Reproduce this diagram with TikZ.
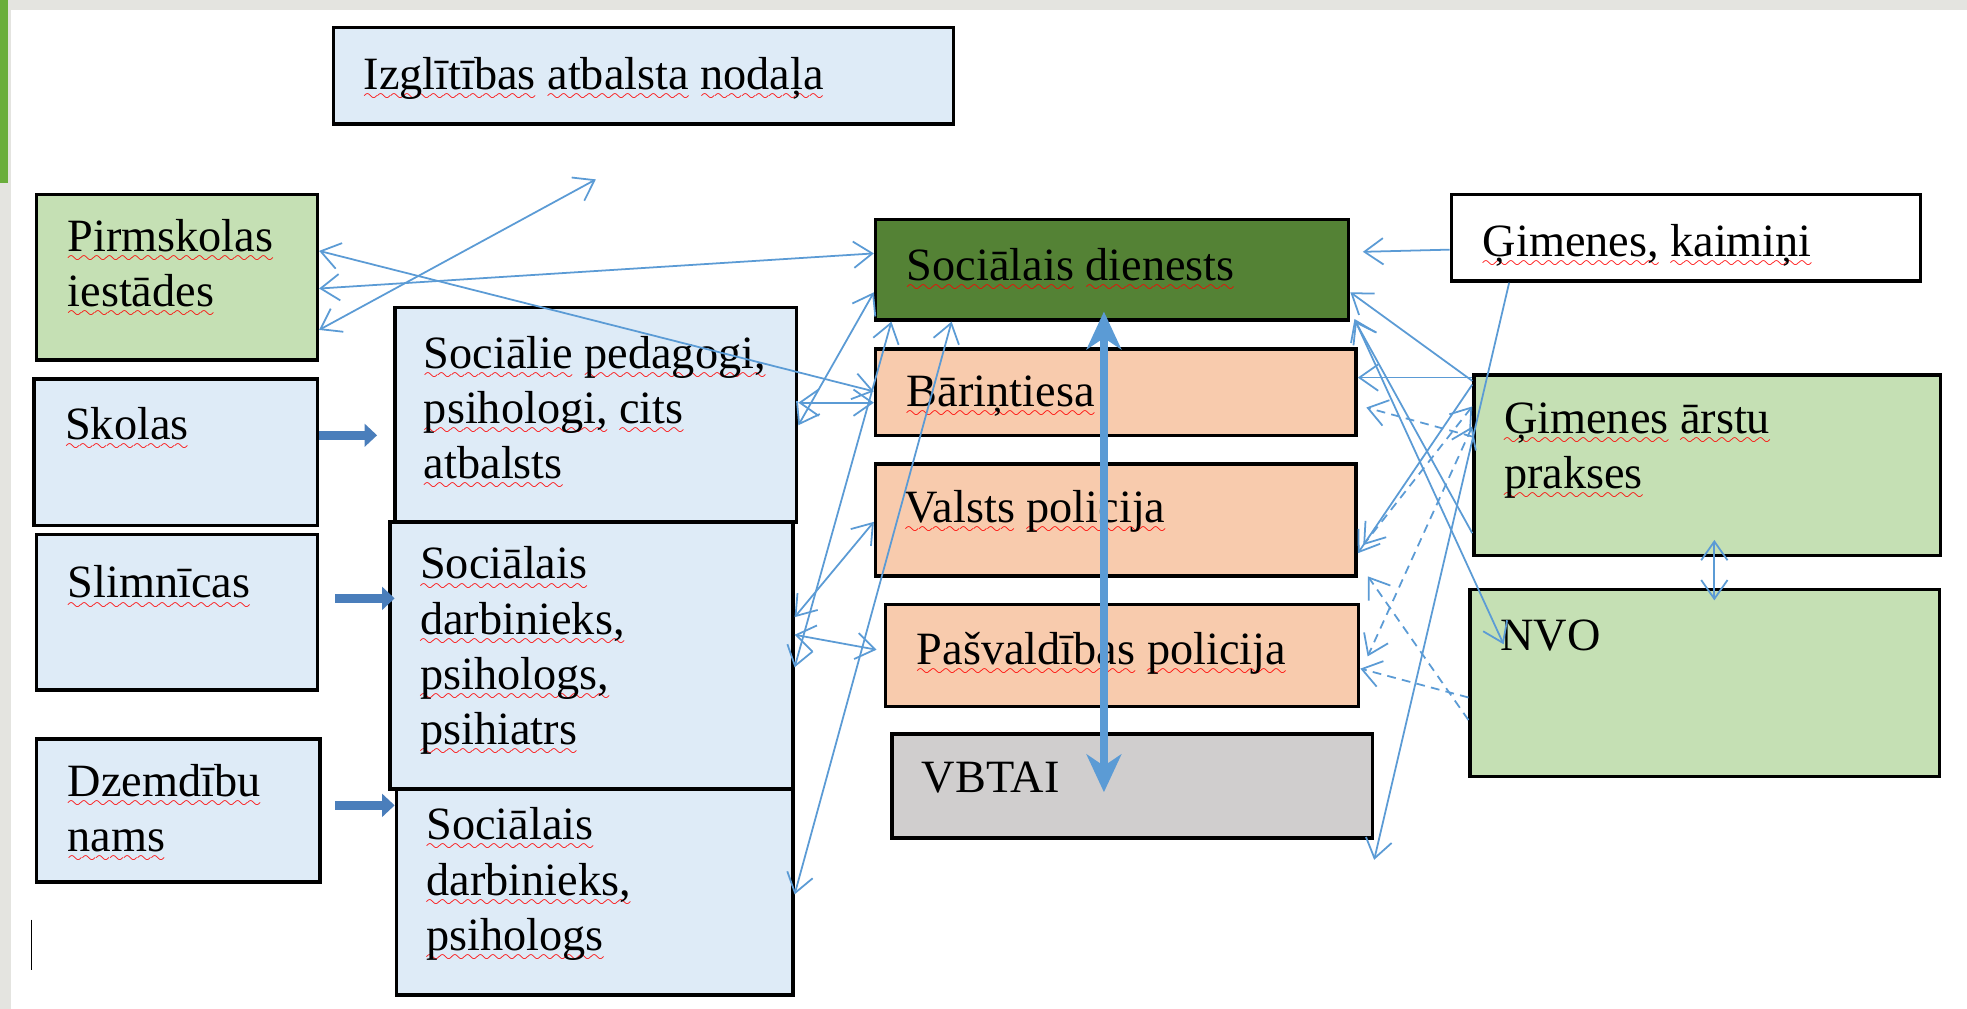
\documentclass[tikz,border=0pt]{standalone}
\usepackage{fontspec}
\setmainfont{Liberation Serif}
\usepackage{xcolor}
\definecolor{boxBlue}{HTML}{DEEBF7}
\definecolor{boxGreen}{HTML}{C5E0B4}
\definecolor{boxDarkGreen}{HTML}{548235}
\definecolor{boxPeach}{HTML}{F8CBAD}
\definecolor{boxGray}{HTML}{D0CECE}
\definecolor{frameGray}{HTML}{E4E4E0}
\definecolor{frameGreen}{HTML}{6AAE3C}
\definecolor{colorLink}{HTML}{5B9BD5}
\definecolor{colorBlock}{HTML}{4A7EBB}
\usetikzlibrary{arrows.meta, fit}
% red wavy underline of one word
\font\wvfont=lasy8
\newsavebox\wvbox
\newcommand\wv[1]{\sbox\wvbox{#1}\leavevmode\rlap{\lower5pt\hbox to \wd\wvbox{\color{red}\xleaders\hbox{\wvfont\char58}\hfil}}\usebox\wvbox}
\tikzset{
  box/.style={draw=black, line width=1.6pt, inner sep=0pt},
  bluebox/.style={box, fill=boxBlue},
  greenbox/.style={box, fill=boxGreen},
  peachbox/.style={box, fill=boxPeach},
  lbl/.style={anchor=north west, inner sep=0pt, align=left,
    font=\fontsize{21}{25}\selectfont, execute at begin node=\strut},
  link/.style={draw=colorLink, line width=0.8pt},
  dlink/.style={link, dash pattern=on 0.14cm off 0.1cm},
  blockarrow/.style={draw=colorBlock, line width=0.15cm, -{Triangle[length=0.2cm, width=0.36cm]}},
  bigarrow/.style={draw=colorLink, line width=4pt,
    {Stealth[length=0.6cm, width=0.55cm, inset=0.18cm]}-{Stealth[length=0.6cm, width=0.55cm, inset=0.18cm]}}
}

\begin{document}
\begin{tikzpicture}[x=0.02cm, y=-0.02cm, >={Straight Barb[length=0.3cm, width=0.42cm]}]
\useasboundingbox (0,0) rectangle (1568,804);
\fill[white] (0,0) rectangle (1568,804);
% window edge
\fill[frameGray] (0,0) rectangle (1568,8);
\fill[frameGray] (0,0) rectangle (9,804);
\fill[frameGreen] (0,0) rectangle (6,146);
\draw[line width=0.6pt] (25,733) -- (25,773);

% boxes
\node[bluebox, fit={(266,22) (760,99)}] (izgl) {};
\node[greenbox, fit={(29,155) (253,287)}] (pirm) {};
\node[bluebox, fit={(27,302) (253,419)}] (skolas) {};
\node[bluebox, fit={(29,426) (253,550)}] (slim) {};
\node[bluebox, fit={(29,589) (255,703)}] (dzem) {};
\node[bluebox, fit={(315,245) (635,416)}] (socped) {};
\node[bluebox, fit={(311,416) (632,629)}] (socdarb) {};
\node[bluebox, fit={(316,629) (632,793)}] (socpsih) {};
\node[box, fill=boxDarkGreen, fit={(698,175) (1075,255)}] (socdien) {};
\node[peachbox, fit={(698,278) (1081,347)}] (bar) {};
\node[peachbox, fit={(698,370) (1081,459)}] (valsts) {};
\node[peachbox, fit={(706,482) (1083,563)}] (pasv) {};
\node[box, fill=boxGray, fit={(711,585) (1094,668)}] (vbtai) {};
\node[box, fill=white, fit={(1157,155) (1531,224)}] (gimkaim) {};
\node[greenbox, fit={(1175,299) (1547,443)}] (gimarst) {};
\node[greenbox, fit={(1172,470) (1546,619)}] (nvo) {};

% texts
\node[lbl] (izgltx) at ([shift={(25,20)}]izgl.north west) {\wv{Izglītības} \wv{atbalsta} \wv{nodaļa}};
\node[lbl] (pirmtx) at ([shift={(26,21)}]pirm.north west) {\wv{Pirmskolas}\\\wv{iestādes}};
\node[lbl] (skolastx) at ([shift={(26,19)}]skolas.north west) {\wv{Skolas}};
\node[lbl] (slimtx) at ([shift={(26,21)}]slim.north west) {\wv{Slimnīcas}};
\node[lbl] (dzemtx) at ([shift={(26,21)}]dzem.north west) {\wv{Dzemdību}\\\wv{nams}};
\node[lbl] (socpedtx) at ([shift={(24,24)}]socped.north west) {\wv{Sociālie} \wv{pedagogi,}\\\wv{psihologi,} \wv{cits}\\\wv{atbalsts}};
\node[lbl] (socdarbtx) at ([shift={(25,21)}]socdarb.north west) {\wv{Sociālais}\\\wv{darbinieks,}\\\wv{psihologs,}\\\wv{psihiatrs}};
\node[lbl] (socpsihtx) at ([shift={(25,16)}]socpsih.north west) {\wv{Sociālais}\\\wv{darbinieks,}\\\wv{psihologs}};
\node[lbl] (socdientx) at ([shift={(26,19)}]socdien.north west) {\wv{Sociālais} \wv{dienests}};
\node[lbl] (bartx) at ([shift={(26,16)}]bar.north west) {\wv{Bāriņtiesa}};
\node[lbl] (valststx) at ([shift={(24,17)}]valsts.north west) {\wv{Valsts} \wv{policija}};
\node[lbl] (pasvtx) at ([shift={(26,18)}]pasv.north west) {\wv{Pašvaldības} \wv{policija}};
\node[lbl] (vbtaitx) at ([shift={(25,17)}]vbtai.north west) {VBTAI};
\node[lbl] (gimkaimtx) at ([shift={(26,20)}]gimkaim.north west) {\wv{Ģimenes,} \wv{kaimiņi}};
\node[lbl] (gimarsttx) at ([shift={(25,23)}]gimarst.north west) {\wv{Ģimenes} \wv{ārstu}\\\wv{prakses}};
\node[lbl] (nvotx) at ([shift={(25,19)}]nvo.north west) {NVO};

% block arrows
\draw[blockarrow, shorten >=0.26cm] (skolas.east |- 0,347) -- (socped.west |- 0,347);
\draw[blockarrow, shorten <=0.26cm, shorten >=-0.1cm] (slim.east |- 0,477) -- (socdarb.west |- 0,477);
\draw[blockarrow, shorten <=0.22cm] (dzem.east |- 0,642) -- (socpsih.west |- 0,642);

% left links
\coordinate (izglend) at (475,143);
\draw[link, <->] (pirm.east |- 0,200) -- (bar.west |- 0,312);
\draw[link, <->] (pirm.east |- 0,230) -- (socdien.west |- 0,202);
\draw[link, <->] (pirm.east |- 0,263) -- (izglend);
\draw[link, <->] (socped.east |- 0,321) -- (bar.west |- 0,321);
\draw[link, <->] (socped.east |- 0,339) -- (socdien.west |- 0,233);
\draw[link, <->] (socdarb.east |- 0,492) -- (valsts.west |- 0,416);
\draw[link, <->, shorten >=0.12cm] (socdarb.east |- 0,506) -- (pasv.west |- 0,519);
\draw[link, <->] (socdarb.east |- 0,532) -- ([xshift=0.28cm]socdien.south west);
\draw[link, <->] (socpsih.east |- 0,713) -- ([xshift=1.24cm]socdien.south west);

% right links
\draw[link, ->, shorten >=0.2cm] (gimkaim.west |- 0,199) -- (socdien.east |- 0,201);
\draw[link, ->] (gimkaim.south -| 1203,0) -- ([yshift=-0.32cm]vbtai.south east);
\draw[link, ->] ([yshift=-0.12cm]gimarst.north west) -- (socdien.east |- 0,233);
\draw[link, ->] (gimarst.west |- 0,301) -- (bar.east |- 0,301);
\draw[link, <->, shorten <=0.16cm] (socdien.east |- 0,247) -- ([shift={(28,45)}]nvo.north west);
\draw[link, ->, shorten >=0.16cm] (gimarst.west |- 0,425) -- (socdien.east |- 0,249);
\draw[link, ->] ([yshift=-0.18cm]gimarst.north west) -- (valsts.east |- 0,441);
\draw[dlink, ->, shorten >=0.14cm] (gimarst.west |- 0,348) -- (bar.east |- 0,323);
\draw[dlink, <->, shorten >=0.14cm] (gimarst.west |- 0,324) -- (valsts.east |- 0,440);
\draw[dlink, <->, shorten >=0.28cm] (gimarst.west |- 0,340) -- (pasv.east |- 0,536);
\draw[dlink, ->, shorten >=0.28cm] (nvo.west |- 0,574) -- (valsts.east |- 0,448);
\draw[dlink, ->] (nvo.west |- 0,556) -- (pasv.east |- 0,533);
\draw[link, <->] ([shift={(193,-14)}]gimarst.south west) -- ([shift={(196,10)}]nvo.north west);

% main axis
\draw[bigarrow, shorten <=-0.16cm, shorten >=-0.1cm] (socdien.south -| 880,0) -- (vbtai.center -| 880,0);
\end{tikzpicture}
\end{document}
